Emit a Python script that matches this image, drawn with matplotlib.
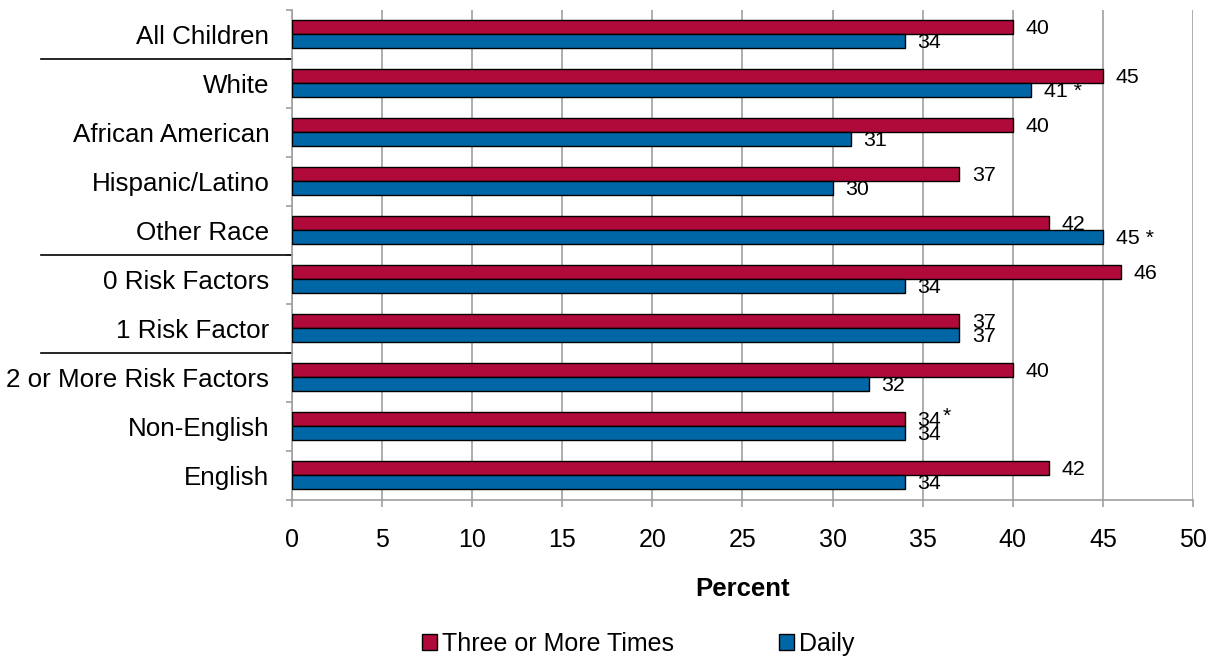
import numpy as np
import matplotlib
matplotlib.use('Agg')
import matplotlib.pyplot as plt
from matplotlib.transforms import blended_transform_factory
from matplotlib.patches import Patch

plt.rcParams['font.family'] = ['Liberation Sans', 'DejaVu Sans']

# --- Data ---
categories = ['All Children', 'White', 'African American', 'Hispanic/Latino', 'Other Race',
              '0 Risk Factors', '1 Risk Factor', '2 or More Risk Factors', 'Non-English', 'English']
three_or_more = [40, 45, 40, 37, 42, 46, 37, 40, 34, 42]
daily = [34, 41, 31, 30, 45, 34, 37, 32, 34, 34]
# significance markers
three_star = [False, False, False, False, False, False, False, False, True, False]
daily_star = [False, True, False, False, True, False, False, False, False, False]
# group separators drawn in the label area (after these category indexes)
separators_after = [0, 4, 6]

RED = '#B00A3A'
BLUE = '#0066A6'
GRID = '#A0A0A0'

fig = plt.figure(figsize=(12.17, 6.58), dpi=100)
ax = fig.add_axes([0.2397, 0.240, 0.9803 - 0.2397, 0.9848 - 0.240])

n = len(categories)
y = np.arange(n)
h = 0.28
ax.barh(y - 0.155, three_or_more, height=h, color=RED, edgecolor='black', linewidth=1.0, zorder=3)
ax.barh(y + 0.13, daily, height=h, color=BLUE, edgecolor='black', linewidth=1.0, zorder=3)

ax.set_xlim(0, 50)
ax.set_ylim(n - 0.5, -0.5)
ax.set_xticks(np.arange(0, 51, 5))
ax.xaxis.grid(True, color=GRID, linewidth=1.2, zorder=0)
ax.tick_params(axis='x', length=5, width=1.2, color=GRID, pad=15, labelsize=18)

# category boundaries as major ticks, labels on minor ticks at centres
ax.set_yticks(np.arange(-0.5, n, 1.0))
ax.set_yticklabels([])
ax.set_yticks(y, minor=True)
ax.set_yticklabels(categories, minor=True, fontsize=18.7)
ax.tick_params(axis='y', which='major', length=4, width=1.2, color=GRID)
ax.tick_params(axis='y', which='minor', length=0, pad=16)

for side in ['top', 'right']:
    ax.spines[side].set_visible(False)
for side in ['left', 'bottom']:
    ax.spines[side].set_color(GRID)
    ax.spines[side].set_linewidth(1.2)

# data labels
for i in range(n):
    ax.annotate(str(three_or_more[i]), (three_or_more[i], y[i] - 0.155), xytext=(13, -2),
                textcoords='offset pixels', va='center', ha='left', fontsize=15.4)
    if three_star[i]:
        ax.annotate('*', (three_or_more[i], y[i] - 0.155), xytext=(38, 3),
                    textcoords='offset pixels', va='center', ha='left', fontsize=15.4)
    lab = str(daily[i]) + (' *' if daily_star[i] else '')
    ax.annotate(lab, (daily[i], y[i] + 0.13), xytext=(13, -2),
                textcoords='offset pixels', va='center', ha='left', fontsize=15.4)

# separator lines in the label area
trans = blended_transform_factory(fig.transFigure, ax.transData)
for k in separators_after:
    ax.plot([0.0334, 0.2397], [k + 0.5, k + 0.5], color='black', linewidth=1.2,
            transform=trans, clip_on=False)

ax.set_xlabel('Percent', fontsize=18.5, fontweight='bold', labelpad=18)

handles = [Patch(facecolor=RED, edgecolor='black', label='Three or More Times'),
           Patch(facecolor=BLUE, edgecolor='black', label='Daily')]
fig.legend(handles=handles, loc='center', bbox_to_anchor=(0.524, 0.022), ncol=2, frameon=False,
           fontsize=18, handlelength=0.6, handleheight=0.6, handletextpad=0.2,
           columnspacing=4.2)

plt.savefig('out.png', dpi=100)
